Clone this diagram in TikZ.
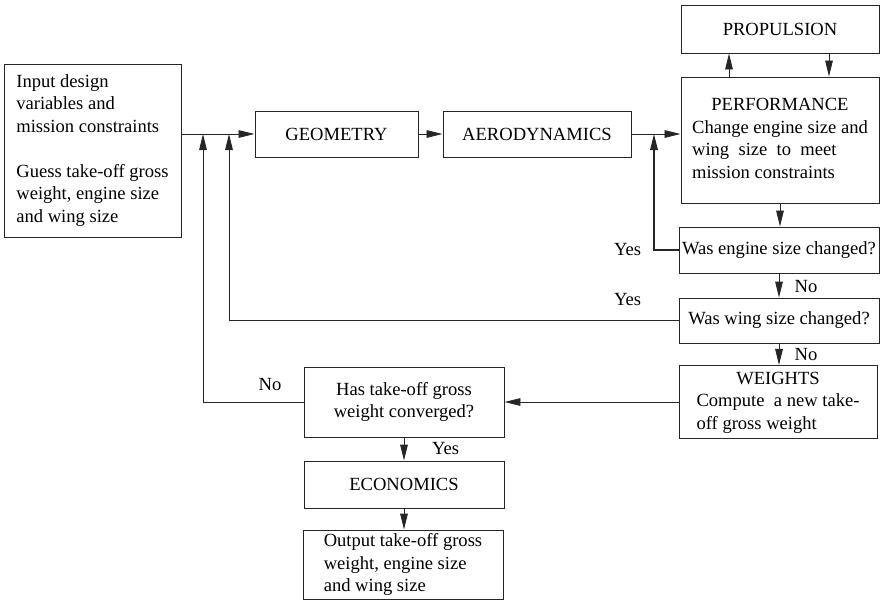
\documentclass[tikz,border=0pt]{standalone}
\usepackage{fontspec}
\setmainfont{Liberation Serif}
\usetikzlibrary{arrows.meta}

\begin{document}
\begin{tikzpicture}[x=0.025cm,y=-0.025cm,
  font=\fontsize{13.2}{16}\selectfont,
  box/.style={draw=black!85,line width=.65pt,inner sep=2pt},
  flow/.style={draw=black!85,line width=.65pt,-{Triangle[length=4mm,width=1.9mm]}}]
\useasboundingbox (0,0) rectangle (880,601);

\node[box,minimum width=4.425cm,minimum height=4.325cm,align=left] (input) at (92.5,150.5)
  {Input design\\variables and\\mission constraints\\[16pt]Guess take-off gross\\weight, engine size\\and wing size};
\node[box,minimum width=4.075cm,minimum height=1.15cm] (geo) at (336.5,134) {GEOMETRY};
\node[box,minimum width=4.7cm,minimum height=1.15cm] (aero) at (537,134) {AERODYNAMICS};
\node[box,minimum width=4.95cm,minimum height=1.2cm] (prop) at (780,29) {PROPULSION};
\node[box,minimum width=4.95cm,minimum height=3.15cm] (perf) at (780,140)
  {\begin{tabular}{@{}l@{}}\multicolumn{1}{@{}c@{}}{PERFORMANCE}\\Change engine size and\\wing\ \ size\ \ to\ \ meet\\mission constraints\end{tabular}};
\node[box,minimum width=5cm,minimum height=1.15cm] (engine) at (779,250) {Was engine size changed?};
\node[box,minimum width=5cm,minimum height=1.125cm] (wing) at (779,320.5) {Was wing size changed?};
\node[box,minimum width=4.95cm,minimum height=1.75cm] (weights) at (778,402)
  {\begin{tabular}{@{}l@{}}\multicolumn{1}{@{}c@{}}{WEIGHTS}\\Compute\ \ a new take-\\off gross weight\end{tabular}};
\node[box,minimum width=5cm,minimum height=1.75cm,align=center] (conv) at (404,402) {Has take-off gross\\weight converged?};
\node[box,minimum width=5cm,minimum height=1.175cm] (econ) at (404,484.5) {ECONOMICS};
\node[box,minimum width=5cm,minimum height=1.725cm,align=left] (output) at (403,564.5)
  {Output take-off gross\\weight, engine size\\and wing size};

\coordinate (j1) at (203,134);
\coordinate (j2) at (229,134);
\coordinate (j3) at (654,134);
\coordinate (pu) at (729,0);
\coordinate (pd) at (829,0);

\draw[flow] (input.east |- geo.west) -- (geo.west);
\draw[flow] (geo) -- (aero);
\draw[flow] (aero.east) -- (aero.east -| perf.west);
\draw[flow] (pu |- perf.north) -- (pu |- prop.south);
\draw[flow] (pd |- prop.south) -- (pd |- perf.north);
\draw[flow] (perf.south) -- (perf.south |- engine.north);
\draw[flow] (engine.south) -- (engine.south |- wing.north);
\draw[flow] (wing.south) -- (wing.south |- weights.north);
\draw[flow] (weights.west) -- (weights.west -| conv.east);
\draw[flow] (conv) -- (econ);
\draw[flow] (econ.south) -- (econ.south |- output.north);

\draw[flow,line width=1pt] (engine.west) -| (j3);
\draw[flow] (wing.west) -| (j2);
\draw[flow] (conv.west) -| (j1);

\node (yes1) at (627.5,250) {Yes};
\node (yes2) at (627.5,300) {Yes};
\node (no1) at (806,287) {No};
\node (no2) at (806,355) {No};
\node (no3) at (270,385) {No};
\node (yes3) at (445.5,449) {Yes};
\end{tikzpicture}
\end{document}
